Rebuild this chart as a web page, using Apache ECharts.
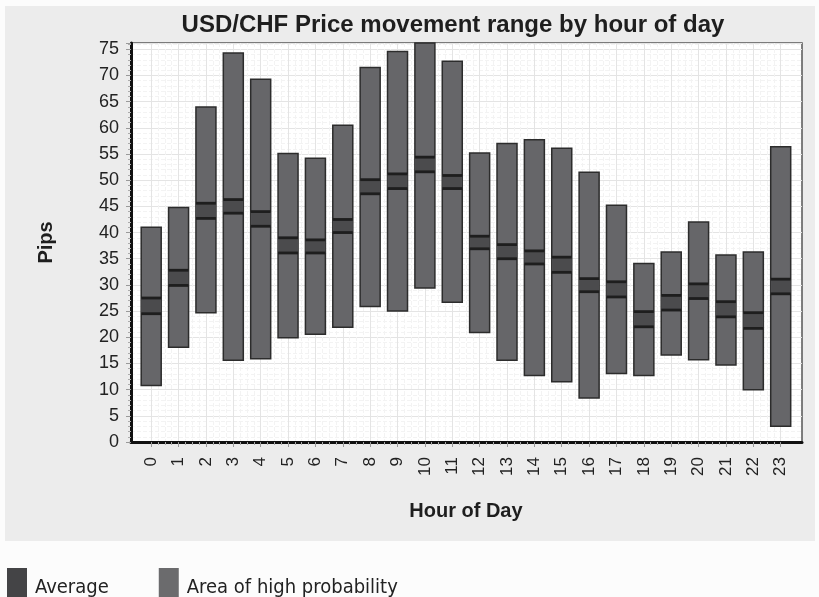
<!DOCTYPE html>
<html>
<head>
<meta charset="utf-8">
<script src="https://cdn.jsdelivr.net/npm/echarts@6/dist/echarts.min.js"></script>
<style>
    html, body { margin: 0; padding: 0; background: #fcfcfc; }
    #chart { width: 819px; height: 597px; }
</style>
</head>
<body>
<div id="chart"></div>
<script>
// hour of day labels
var hours = ['0', '1', '2', '3', '4', '5', '6', '7', '8', '9', '10', '11',
             '12', '13', '14', '15', '16', '17', '18', '19', '20', '21', '22', '23'];
// area of high probability (pips)
var lowVals  = [10.8, 18.1, 24.7, 15.6, 15.9, 19.9, 20.6, 21.9, 25.9, 25.0, 29.4, 26.7,
                20.9, 15.6, 12.7, 11.5, 8.4, 13.1, 12.7, 16.6, 15.7, 14.7, 10.0, 3.0];
var highVals = [41.0, 44.8, 64.0, 74.3, 69.3, 55.1, 54.2, 60.5, 71.5, 74.6, 78.0, 72.7,
                55.2, 57.0, 57.7, 56.1, 51.5, 45.2, 34.1, 36.3, 42.0, 35.7, 36.3, 56.4];
// average band (pips)
var avgLow   = [24.5, 29.9, 42.7, 43.7, 41.2, 36.1, 36.1, 40.0, 47.4, 48.4, 51.6, 48.4,
                36.9, 35.0, 34.0, 32.4, 28.7, 27.7, 22.0, 25.2, 27.4, 23.9, 21.7, 28.3];
var avgHigh  = [27.5, 32.8, 45.6, 46.3, 44.0, 39.0, 38.6, 42.5, 50.1, 51.2, 54.4, 50.9,
                39.3, 37.7, 36.5, 35.3, 31.2, 30.6, 24.9, 28.0, 30.2, 26.8, 24.7, 31.1];
var yTicks = [0, 5, 10, 15, 20, 25, 30, 35, 40, 45, 50, 55, 60, 65, 70, 75];

var Y_MAX = 76.2;
var BAR_W = 20;
var FONT = "'Liberation Sans', Arial, sans-serif";
var NARROW = "'DejaVu Sans Condensed', 'Liberation Sans', sans-serif";

var rangeData = hours.map(function (h, i) { return [i, lowVals[i], highVals[i]]; });
var avgData = hours.map(function (h, i) { return [i, avgLow[i], avgHigh[i]]; });

function clampTop(y, cs) {
    return Math.max(y, cs.y);
}

function renderRange(params, api) {
    var x = api.value(0);
    var p0 = api.coord([x, api.value(1)]);
    var p1 = api.coord([x, api.value(2)]);
    var top = clampTop(p1[1], params.coordSys);
    return {
        type: 'rect',
        shape: { x: p0[0] - BAR_W / 2, y: top, width: BAR_W, height: p0[1] - top },
        style: { fill: '#666669', stroke: '#2c2c2c', lineWidth: 1.5 }
    };
}

function renderAvg(params, api) {
    var x = api.value(0);
    var p0 = api.coord([x, api.value(1)]);
    var p1 = api.coord([x, api.value(2)]);
    var l = p0[0] - BAR_W / 2, r = p0[0] + BAR_W / 2;
    return {
        type: 'group',
        children: [
            {
                type: 'rect',
                shape: { x: l, y: p1[1], width: BAR_W, height: p0[1] - p1[1] },
                style: { fill: '#4b4b4d' }
            },
            {
                type: 'line',
                shape: { x1: l, y1: p1[1], x2: r, y2: p1[1] },
                style: { stroke: '#1e1e1e', lineWidth: 2.8 }
            },
            {
                type: 'line',
                shape: { x1: l, y1: p0[1], x2: r, y2: p0[1] },
                style: { stroke: '#1e1e1e', lineWidth: 2.8 }
            }
        ]
    };
}

var chart = echarts.init(document.getElementById('chart'));
var option = {
    animation: false,
    backgroundColor: '#fcfcfc',
    graphic: [{
        type: 'rect',
        z: -100,
        silent: true,
        shape: { x: 5, y: 6, width: 810, height: 535 },
        style: { fill: '#ececec' }
    }],
    title: {
        text: 'USD/CHF Price movement range by hour of day',
        left: 448,
        top: 8,
        textAlign: 'center',
        textStyle: { fontFamily: FONT, fontSize: 24, fontWeight: 'bold', color: '#1e1e1e' }
    },
    legend: {
        data: ['Average', 'Area of high probability'],
        icon: 'rect',
        left: 2,
        top: 563,
        itemWidth: 20,
        itemHeight: 40,
        itemGap: 50,
        textStyle: { fontFamily: NARROW, fontSize: 20, color: '#222', padding: [0, 0, 0, 3] }
    },
    grid: [
        // frame grid
        { left: 131, right: 17, top: 43, bottom: 155, show: true, backgroundColor: '#fff',
          borderColor: '#555', borderWidth: 1.5 },
        // data grid: 0..23 between first and last bar centres
        { left: 151.2, right: 38.3, top: 43, bottom: 155 }
    ],
    xAxis: [
        {
            gridIndex: 0, type: 'value', min: 0, max: 1,
            axisLine: { show: true, lineStyle: { color: '#111', width: 3 } },
            axisTick: { show: false },
            axisLabel: { show: false },
            splitLine: { show: false }
        },
        {
            gridIndex: 1, type: 'value', min: 0, max: 23, interval: 1,
            name: 'Hour of Day',
            nameLocation: 'middle',
            nameGap: 59,
            nameTextStyle: { fontFamily: FONT, fontSize: 20, fontWeight: 'bold', color: '#1e1e1e' },
            axisLine: { show: false },
            axisTick: { show: true, length: 5, lineStyle: { color: '#999' } },
            minorTick: { show: true, splitNumber: 4, length: 3, lineStyle: { color: '#aaa' } },
            axisLabel: {
                rotate: 90, margin: 15, fontSize: 17, fontFamily: FONT, color: '#222',
                formatter: function (v) { return hours[v]; }
            },
            splitLine: { show: true, lineStyle: { color: '#e4e4e4' } },
            minorSplitLine: { show: true, lineStyle: { color: '#f3f3f3', type: 'dashed' } }
        }
    ],
    yAxis: [
        {
            gridIndex: 0, type: 'value', min: 0, max: Y_MAX, interval: 5,
            name: 'Pips',
            nameLocation: 'middle',
            nameGap: 75,
            nameTextStyle: { fontFamily: FONT, fontSize: 20, fontWeight: 'bold', color: '#1e1e1e' },
            axisLine: { show: true, lineStyle: { color: '#111', width: 3 } },
            axisTick: { show: true, length: 5, lineStyle: { color: '#999' } },
            minorTick: { show: true, splitNumber: 5, length: 3, lineStyle: { color: '#aaa' } },
            axisLabel: {
                margin: 12, fontSize: 18, fontFamily: FONT, color: '#222',
                formatter: function (v) { return yTicks.indexOf(v) >= 0 ? String(v) : ''; }
            },
            splitLine: { show: true, lineStyle: { color: '#e4e4e4' } },
            minorSplitLine: { show: true, lineStyle: { color: '#f3f3f3', type: 'dashed' } }
        },
        {
            gridIndex: 1, type: 'value', min: 0, max: Y_MAX, show: false
        }
    ],
    series: [
        {
            name: 'Area of high probability',
            type: 'custom',
            xAxisIndex: 1,
            yAxisIndex: 1,
            itemStyle: { color: '#6b6b6d' },
            renderItem: renderRange,
            encode: { x: 0, y: [1, 2] },
            data: rangeData
        },
        {
            name: 'Average',
            type: 'custom',
            xAxisIndex: 1,
            yAxisIndex: 1,
            itemStyle: { color: '#444446' },
            renderItem: renderAvg,
            encode: { x: 0, y: [1, 2] },
            data: avgData
        }
    ]
};
chart.setOption(option);
</script>
</body>
</html>
